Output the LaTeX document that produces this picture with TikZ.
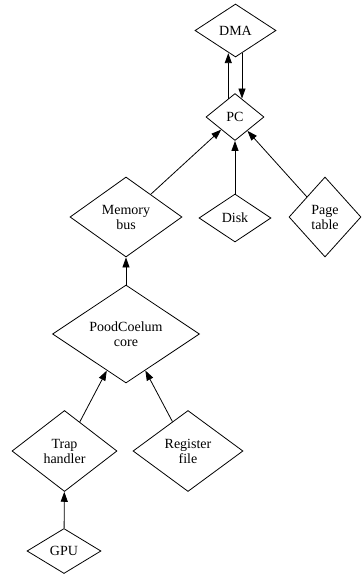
\documentclass[tikz,border=0pt]{standalone}
\usepackage{fontspec}
\setmainfont{Liberation Serif}
\usetikzlibrary{arrows.meta, shapes.geometric}

\begin{document}
\begin{tikzpicture}[x=1pt, y=-1pt,
	unit/.style={diamond, draw, line width=0.8pt, inner sep=0pt, align=center, font=\fontsize{14}{15}\selectfont},
	link/.style={-{Triangle[length=10pt, width=7pt]}, line width=0.8pt}]
			% Nodes and arrows:
			\useasboundingbox (0, 0) rectangle (362, 574);
			\node[unit, minimum width=81, minimum height=53](dma) at (235.5, 30.5){DMA};
			\node[unit, minimum width=58, minimum height=47](pc) at (235, 117){PC};
			\node[unit, minimum width=112, minimum height=80](mem) at (126, 217){Memory\\bus};
			\node[unit, minimum width=72, minimum height=48](disk) at (235, 218){Disk};
			\node[unit, minimum width=72, minimum height=80](page) at (325, 217){Page\\table};
			\node[unit, minimum width=147, minimum height=81](core) at (126, 334){PoodCoelum\\core};
			\node[unit, minimum width=105, minimum height=81](trap) at (64.5, 451){Trap\\handler};
			\node[unit, minimum width=110, minimum height=81](reg) at (188, 451){Register\\file};
			\node[unit, minimum width=74, minimum height=45](gpu) at (64, 551){GPU};
			\draw[link] (pc.110) -- (pc.110 |- dma.254);
			\draw[link] (dma.286) -- (dma.286 |- pc.70);
			\draw[link] (mem) -- (pc);
			\draw[link] (disk) -- (pc);
			\draw[link] (page) -- (pc);
			\draw[link] (core) -- (mem);
			\draw[link] (trap) -- (core);
			\draw[link] (reg) -- (core);
			\draw[link] (gpu) -- (trap);
		\end{tikzpicture}
\end{document}
